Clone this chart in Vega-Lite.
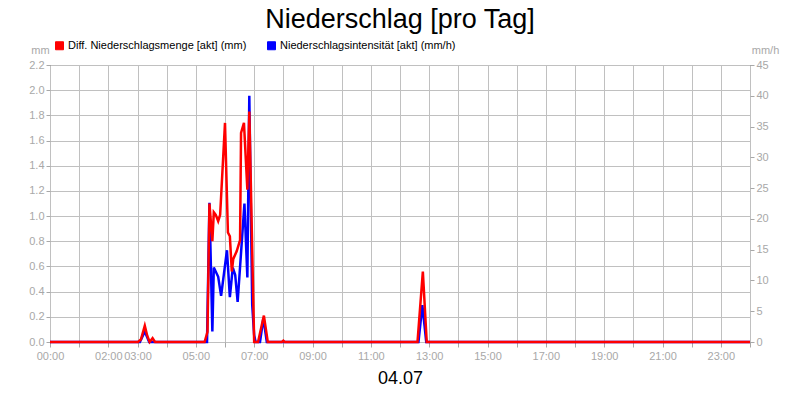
{
  "$schema": "https://vega.github.io/schema/vega-lite/v6.json",
  "width": 700,
  "height": 277,
  "autosize": {"type": "none"},
  "padding": {"left": 50, "top": 65, "right": 50, "bottom": 58},
  "background": "white",
  "title": {"text": "Niederschlag [pro Tag]", "fontSize": 27, "font": "Liberation Sans", "fontWeight": "normal", "color": "black", "anchor": "middle", "offset": 6},
  "datasets": {
    "menge": [
      {"minute": 0, "menge": 0}, {"minute": 181, "menge": 0}, {"minute": 187, "menge": 0.02}, {"minute": 195, "menge": 0.13},
      {"minute": 200, "menge": 0.05}, {"minute": 205, "menge": 0}, {"minute": 211, "menge": 0.03}, {"minute": 216, "menge": 0},
      {"minute": 318, "menge": 0}, {"minute": 324, "menge": 0.08}, {"minute": 328, "menge": 1.1}, {"minute": 334, "menge": 0.8},
      {"minute": 337, "menge": 1.03}, {"minute": 341, "menge": 1.01}, {"minute": 346, "menge": 0.96}, {"minute": 350, "menge": 1.01},
      {"minute": 360, "menge": 1.74}, {"minute": 366, "menge": 0.87}, {"minute": 370, "menge": 0.84}, {"minute": 374, "menge": 0.56},
      {"minute": 377, "menge": 0.66}, {"minute": 384, "menge": 0.72}, {"minute": 391, "menge": 0.81}, {"minute": 393, "menge": 1.66},
      {"minute": 399, "menge": 1.74}, {"minute": 406, "menge": 1.21}, {"minute": 410, "menge": 1.83}, {"minute": 420, "menge": 0},
      {"minute": 428, "menge": 0}, {"minute": 440, "menge": 0.21}, {"minute": 448, "menge": 0}, {"minute": 477, "menge": 0},
      {"minute": 480, "menge": 0.01}, {"minute": 483, "menge": 0}, {"minute": 756, "menge": 0}, {"minute": 767, "menge": 0.56},
      {"minute": 775, "menge": 0}, {"minute": 1440, "menge": 0}
    ],
    "intens": [
      {"minute": 0, "intens": 0}, {"minute": 185, "intens": 0}, {"minute": 195, "intens": 1.7}, {"minute": 204, "intens": 0},
      {"minute": 323, "intens": 0}, {"minute": 328, "intens": 22.6}, {"minute": 334, "intens": 1.7}, {"minute": 337, "intens": 12.1},
      {"minute": 346, "intens": 10.6}, {"minute": 352, "intens": 7.5}, {"minute": 364, "intens": 14.9}, {"minute": 370, "intens": 7.3},
      {"minute": 376, "intens": 12.1}, {"minute": 381, "intens": 10.9}, {"minute": 386, "intens": 6.5}, {"minute": 400, "intens": 22.5},
      {"minute": 406, "intens": 10.5}, {"minute": 410, "intens": 40}, {"minute": 416, "intens": 6}, {"minute": 420, "intens": 1.1},
      {"minute": 423, "intens": 0}, {"minute": 432, "intens": 0}, {"minute": 439, "intens": 3.9}, {"minute": 446, "intens": 0},
      {"minute": 758, "intens": 0}, {"minute": 766, "intens": 6}, {"minute": 774, "intens": 0}, {"minute": 1440, "intens": 0}
    ]
  },
  "encoding": {
    "x": {
      "field": "minute", "type": "quantitative",
      "scale": {"domain": [0, 1440], "nice": false, "zero": false},
      "axis": {
        "title": "04.07", "titleFontSize": 18, "titleFont": "Liberation Sans", "titleFontWeight": "normal", "titleColor": "black",
        "titleY": 41, "titleBaseline": "alphabetic",
        "values": [0,60,120,180,240,300,360,420,480,540,600,660,720,780,840,900,960,1020,1080,1140,1200,1260,1320,1380,1440],
        "labelExpr": "indexof([0,120,180,300,420,540,660,780,900,1020,1140,1260,1380], datum.value) >= 0 ? (datum.value < 600 ? '0' : '') + floor(datum.value/60) + ':00' : ''",
        "labelOverlap": false, "labelBound": false, "labelFlush": false,
        "labelFont": "Liberation Sans", "labelFontSize": 11, "labelColor": "#a8a8a8", "labelPadding": 3,
        "tickColor": "#a8a8a8", "tickSize": 5, "domain": false,
        "grid": true, "gridColor": "#c0c0c0", "gridWidth": 1
      }
    }
  },
  "layer": [
    {
      "data": {"name": "intens"},
      "mark": {"type": "line", "strokeWidth": 2.5, "interpolate": "linear"},
      "encoding": {
        "y": {
          "field": "intens", "type": "quantitative",
          "scale": {"domain": [0, 45], "nice": false},
          "axis": {
            "orient": "right", "title": "mm/h", "titleAngle": 0, "titleX": 15, "titleY": -12, "titleAlign": "center", "titleBaseline": "alphabetic",
            "titleFont": "Liberation Sans", "titleFontSize": 11, "titleFontWeight": "normal", "titleColor": "#a8a8a8",
            "values": [0,5,10,15,20,25,30,35,40,45], "format": "d",
            "labelFont": "Liberation Sans", "labelFontSize": 11, "labelColor": "#a8a8a8", "labelPadding": 2,
            "tickColor": "#a8a8a8", "tickSize": 4, "domain": false, "grid": false
          }
        },
        "color": {
          "datum": "Niederschlagsintensität [akt] (mm/h)", "type": "nominal",
          "scale": {"domain": ["Diff. Niederschlagsmenge [akt] (mm)", "Niederschlagsintensität [akt] (mm/h)"], "range": ["#ff0000", "#0000ff"]},
          "legend": {
            "title": null, "orient": "none", "legendX": 4, "legendY": -25, "direction": "horizontal",
            "symbolType": "square", "symbolSize": 64, "labelFont": "Liberation Sans", "labelFontSize": 11, "labelColor": "black",
            "labelLimit": 300, "labelOffset": 3, "columnPadding": 18,
            "encode": {"symbols": {"update": {"fill": {"scale": "color", "field": "value"}, "stroke": {"value": "black"}, "strokeWidth": {"value": 1}, "opacity": {"value": 1}}}}
          }
        }
      }
    },
    {
      "data": {"name": "menge"},
      "mark": {"type": "line", "strokeWidth": 2.5, "interpolate": "linear"},
      "encoding": {
        "y": {
          "field": "menge", "type": "quantitative",
          "scale": {"domain": [0, 2.2], "nice": false},
          "axis": {
            "orient": "left", "title": "mm", "titleAngle": 0, "titleX": -10, "titleY": -12, "titleAlign": "center", "titleBaseline": "alphabetic",
            "titleFont": "Liberation Sans", "titleFontSize": 11, "titleFontWeight": "normal", "titleColor": "#a8a8a8",
            "values": [0,0.2,0.4,0.6,0.8,1.0,1.2,1.4,1.6,1.8,2.0,2.2], "format": ".1f",
            "labelFont": "Liberation Sans", "labelFontSize": 11, "labelColor": "#a8a8a8", "labelPadding": 2,
            "tickColor": "#a8a8a8", "tickSize": 4, "domain": false,
            "grid": true, "gridColor": "#c0c0c0", "gridWidth": 1
          }
        },
        "color": {"datum": "Diff. Niederschlagsmenge [akt] (mm)", "type": "nominal"}
      }
    }
  ],
  "resolve": {"scale": {"y": "independent"}},
  "config": {
    "view": {"stroke": "black", "strokeWidth": 1},
    "font": "Liberation Sans"
  }
}
